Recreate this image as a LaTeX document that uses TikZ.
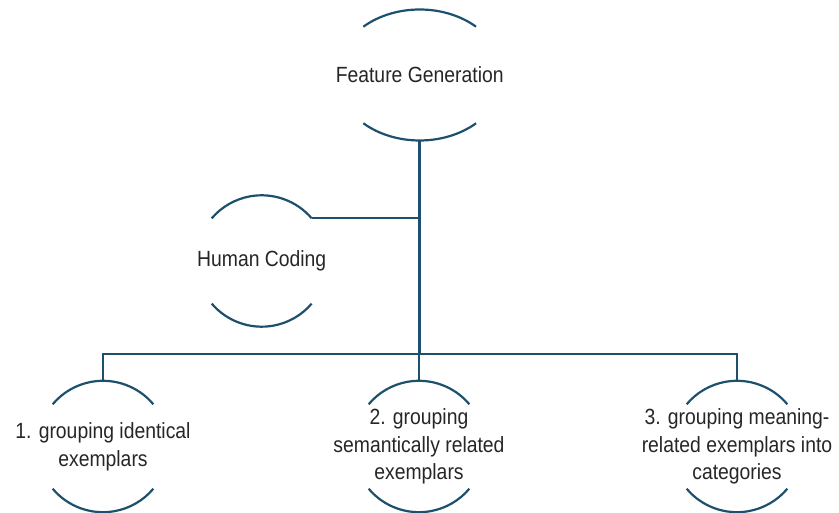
\documentclass[tikz,border=0pt]{standalone}
\usepackage{fontspec}
\setmainfont{Liberation Sans}[FakeStretch=0.88]
\definecolor{linkblue}{RGB}{28,80,108}
\definecolor{labelgray}{RGB}{38,38,38}

% open bubble: only the top and bottom arcs of the outline are drawn
\newcommand\bubblearcs[4]{%
  \draw[wire] ([shift={(#4:#2 and #3)}]#1.center)
    arc[start angle=#4, end angle=180-#4, x radius=#2, y radius=#3];
  \draw[wire] ([shift={(180+#4:#2 and #3)}]#1.center)
    arc[start angle=180+#4, end angle=360-#4, x radius=#2, y radius=#3];}

\begin{document}
\begin{tikzpicture}[x=1pt,y=1pt,
  bubble/.style={inner sep=0pt, outer sep=0pt,
    align=center, text=labelgray, font=\fontsize{22}{27.7}\selectfont},
  wire/.style={draw=linkblue, line width=2.2pt},
  trunk/.style={draw=linkblue, line width=3.2pt},
  ]
\useasboundingbox (0,0) rectangle (839,513);

% nodes
\node[bubble] (fg) at (419.7,438) {Feature Generation};
\node[bubble] (hc) at (261.7,252) {Human Coding};
\node[bubble] (c1) at (103,66.5) {1. grouping identical\\exemplars};
\node[bubble] (c2) at (419,66.5) {2. grouping\\semantically related\\exemplars};
\node[bubble] (c3) at (737,66.5) {3. grouping meaning-\\related exemplars into\\categories};

% outlines
\bubblearcs{fg}{83.4pt}{65.5pt}{47.5}
\bubblearcs{hc}{65.7pt}{65.7pt}{40.5}
\bubblearcs{c1}{65.7pt}{65.7pt}{40}
\bubblearcs{c2}{65.7pt}{65.7pt}{40}
\bubblearcs{c3}{65.7pt}{65.7pt}{40}

% attachment points on the outlines
\coordinate (fg-bot) at ([yshift=-65.5pt]fg.center);
\coordinate (hc-port) at ([shift={(40.5:65.7pt)}]hc.center);
\coordinate (c1-top) at ([yshift=65.7pt]c1.center);
\coordinate (c2-top) at ([yshift=65.7pt]c2.center);
\coordinate (c3-top) at ([yshift=65.7pt]c3.center);

% connectors
\coordinate (junction) at (419.7,159);
\draw[trunk] (fg-bot) -- (junction);
\draw[wire] (hc-port) -- (hc-port -| junction);
\draw[wire] (c1-top) |- (junction) -| (c3-top);
\draw[wire] (c2-top) -- (c2-top |- junction);
\end{tikzpicture}
\end{document}
